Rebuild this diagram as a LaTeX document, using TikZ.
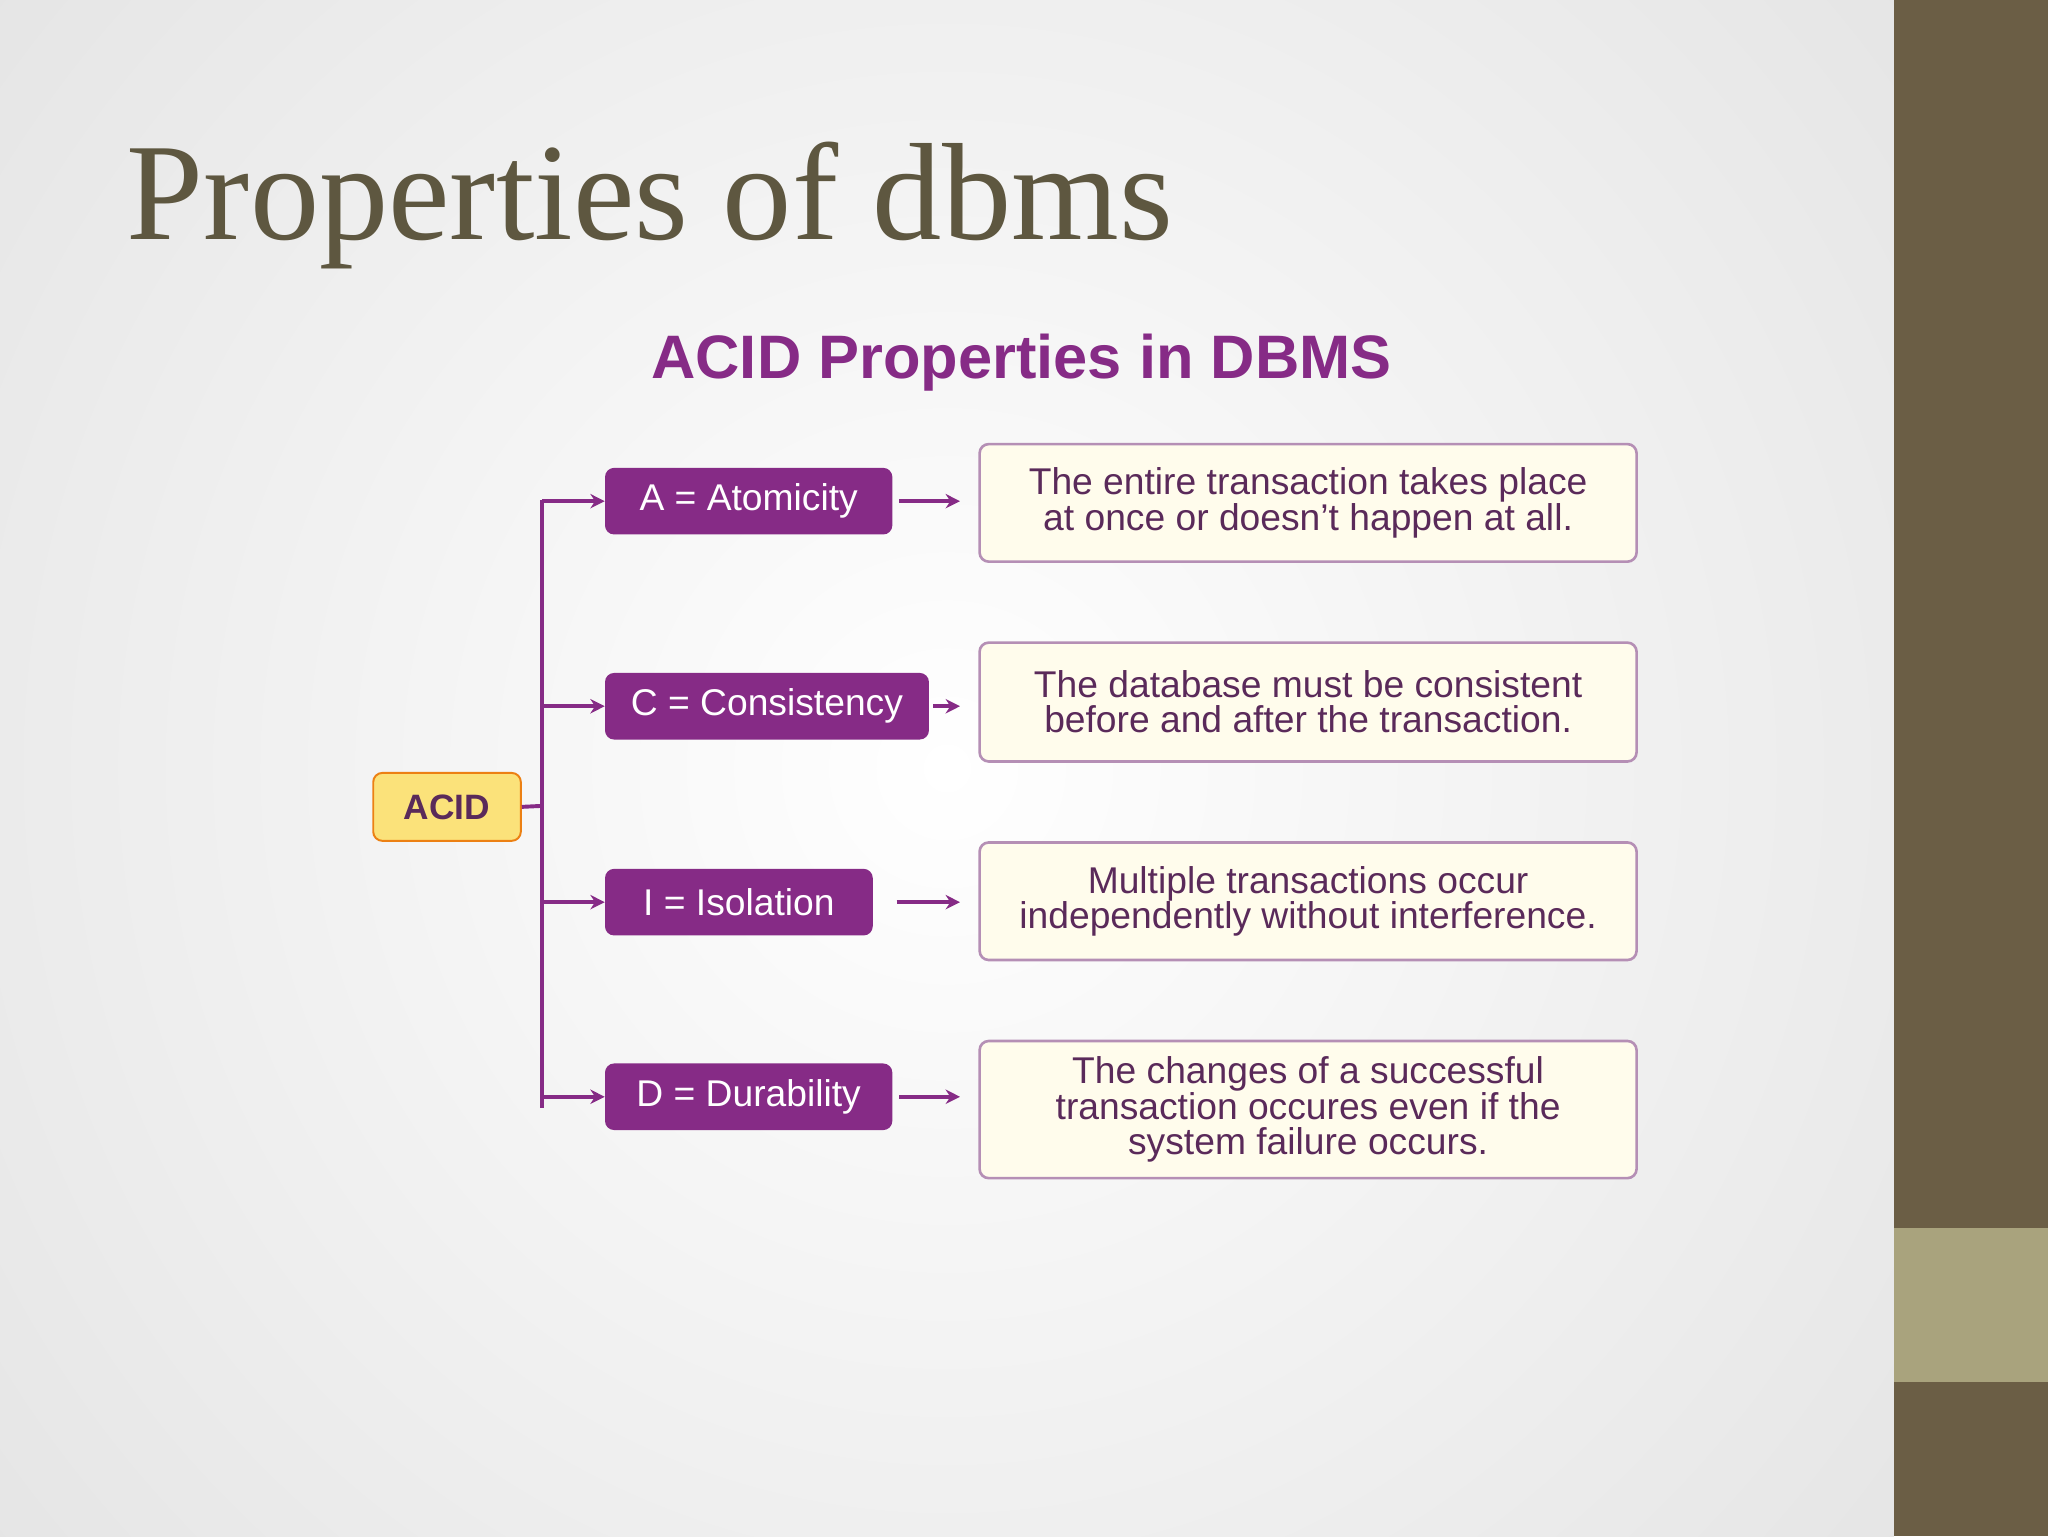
\documentclass[tikz,border=0pt]{standalone}
\usepackage{fontspec}
\setmainfont{Liberation Serif}
\setsansfont{Liberation Sans}
\usetikzlibrary{arrows.meta}
\definecolor{bar}{HTML}{6B5E45}
\definecolor{barl}{HTML}{A9A37D}
\definecolor{ttl}{HTML}{5E5740}
\definecolor{pur}{HTML}{862B86}
\definecolor{dpur}{HTML}{5A2A5A}
\definecolor{descb}{HTML}{B58FB5}
\definecolor{descf}{HTML}{FFFCEC}
\definecolor{yel}{HTML}{FBE27A}
\tikzset{
 prop/.style={fill=pur,rounded corners=7,text=white,font=\sffamily\fontsize{28.5}{30}\selectfont,inner sep=0,anchor=north west},
 desc/.style={draw=descb,line width=2,fill=descf,rounded corners=7,text=dpur,font=\sffamily\fontsize{28.5}{27}\selectfont,align=center,inner sep=0,anchor=north west},
 con/.style={draw=pur,line width=3,-{Stealth[length=11,width=11]}}
}
\begin{document}
\begin{tikzpicture}[x=1pt,y=-1pt]
\useasboundingbox (0,0) rectangle (1568,1176);
\begin{scope}
\clip (0,0) rectangle (1450,1176);
\shade[inner color=white,outer color=black!10] (-200,-350) rectangle (1650,1526);
\end{scope}
\fill[bar] (1450,0) rectangle (1568,1176);
\fill[barl] (1450,940) rectangle (1568,1058);
\node[anchor=base west,text=ttl,font=\fontsize{106}{108}\selectfont,inner sep=0] (title) at (97,183) {Properties of dbms};
\node[text=pur,font=\sffamily\bfseries\fontsize{47}{49}\selectfont,inner sep=0] (sub) at (782,278) {ACID Properties in DBMS};
\node[draw=orange!70!brown,line width=1.5,fill=yel,rounded corners=7,minimum width=113,minimum height=52,anchor=north west,inner sep=0,text=dpur,font=\sffamily\bfseries\fontsize{27}{28}\selectfont] (acid) at (285,591) {ACID};
\node[prop,minimum width=220,minimum height=51] (a) at (463,358) {A = Atomicity};
\node[prop,minimum width=248,minimum height=51] (c) at (463,515) {C = Consistency};
\node[prop,minimum width=205,minimum height=51] (i) at (463,665) {I = Isolation};
\node[prop,minimum width=220,minimum height=51] (d) at (463,814) {D = Durability};
\node[desc,minimum width=503,minimum height=90] (da) at (749,339) {The entire transaction takes place\\at once or doesn't happen at all.};
\node[desc,minimum width=503,minimum height=91] (dc) at (749,491) {The database must be consistent\\before and after the transaction.};
\node[desc,minimum width=503,minimum height=90] (di) at (749,644) {Multiple transactions occur\\independently without interference.};
\node[desc,minimum width=503,minimum height=105] (dd) at (749,796) {The changes of a successful\\transaction occures even if the\\system failure occurs.};
\coordinate (t) at (415,617);
\draw[pur,line width=3] (acid.east) -- (t);
\draw[pur,line width=3] (415,383) -- (415,848);
\foreach \n in {a,c,i,d}{\draw[con] (t|-\n.west) -- (\n.west);}
\draw[con] ([xshift=5]a.east) -- ([xshift=-14]da.west|-a.east);
\draw[con] ([xshift=3]c.east) -- ([xshift=-14]dc.west|-c.east);
\draw[con] ([xshift=18]i.east) -- ([xshift=-14]di.west|-i.east);
\draw[con] ([xshift=5]d.east) -- ([xshift=-14]dd.west|-d.east);
\end{tikzpicture}
\end{document}
